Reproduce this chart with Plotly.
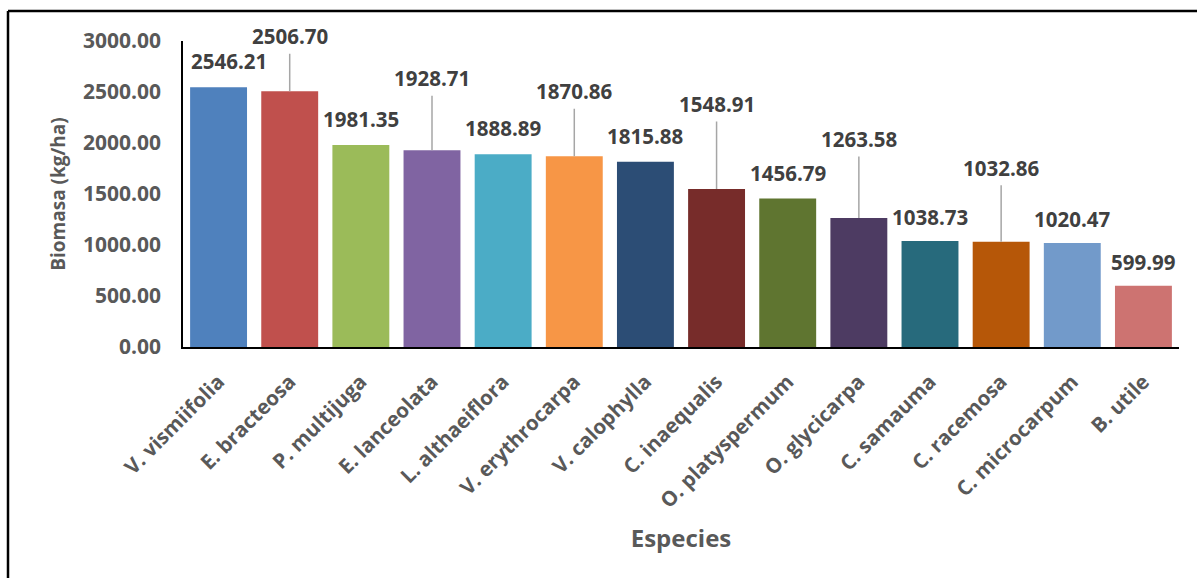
import plotly.graph_objects as go

# Biomass per species (kg/ha)
especies = [
    "V. vismiifolia", "E. bracteosa", "P. multijuga", "E. lanceolata",
    "L. althaeiflora", "V. erythrocarpa", "V. calophylla", "C. inaequalis",
    "O. platyspermum", "O. glycicarpa", "C. samauma", "C. racemosa",
    "C. microcarpum", "B. utile",
]
biomasa = [
    2546.21, 2506.70, 1981.35, 1928.71, 1888.89, 1870.86, 1815.88,
    1548.91, 1456.79, 1263.58, 1038.73, 1032.86, 1020.47, 599.99,
]

colores = [
    "#4F81BD", "#C0504D", "#9BBB59", "#8064A2", "#4BACC6", "#F79646",
    "#2C4D75", "#772C2A", "#5F7530", "#4D3B62", "#276A7C", "#B65708",
    "#729ACA", "#CD7371",
]

# Offset (px) of each value label from its bar top; tall lifts get a leader line
label_lift = [26, 55, 26, 72, 26, 65, 26, 85, 25, 79, 24, 74, 24, 24]
label_nudge = [10, 0, 0, 0, 0, 0, 0, 0, 0, 0, 0, 0, 0, 0]
LEADER_MIN = 40

FONT = "Open Sans"
DARK = "#404040"
GREY = "#595959"

fig = go.Figure(
    go.Bar(
        x=especies,
        y=biomasa,
        marker=dict(color=colores, line=dict(width=0)),
        width=0.8,
        hoverinfo="x+y",
    )
)

annotations = []
for name, val, lift, nudge in zip(especies, biomasa, label_lift, label_nudge):
    leader = lift >= LEADER_MIN
    annotations.append(dict(
        x=name, y=val, xref="x", yref="y",
        text=f"{val:.2f}",
        showarrow=True, arrowhead=0, arrowwidth=1.5,
        arrowcolor="#A6A6A6" if leader else "rgba(0,0,0,0)",
        ax=nudge, ay=-lift, standoff=0,
        font=dict(family=FONT, size=20.5, color=DARK, weight="bold"),
        borderpad=3,
    ))

# Outer frame: top and left edges
frame = dict(type="line", xref="paper", yref="paper",
             line=dict(color="black", width=2.5))
shapes = [
    dict(frame, x0=-0.1757, x1=1.02, y0=1.098, y1=1.098),
    dict(frame, x0=-0.1757, x1=-0.1757, y0=1.098, y1=-0.76),
]

fig.update_layout(
    width=1197, height=578,
    margin=dict(l=183, r=18, t=41, b=231),
    paper_bgcolor="white", plot_bgcolor="white",
    showlegend=False,
    bargap=0.2,
    annotations=annotations,
    shapes=shapes,
    font=dict(family=FONT, color=GREY),
    xaxis=dict(
        range=[-0.5, len(especies) - 0.5],
        automargin=False,
        tickangle=-45,
        tickfont=dict(family=FONT, size=20.5, color=GREY, weight="bold"),
        ticklabelstandoff=13,
        showline=True, linecolor="black", linewidth=1.5,
        ticks="", showgrid=False,
        title=dict(text="<b>Especies</b>", standoff=18,
                   font=dict(family=FONT, size=24, color=GREY)),
    ),
    yaxis=dict(
        range=[0, 3000], dtick=500, tickformat=".2f",
        automargin=False,
        tickfont=dict(family=FONT, size=21, color=GREY, weight="bold"),
        showline=True, linecolor="black", linewidth=1.5,
        ticks="", showgrid=False, zeroline=False,
        ticklabelstandoff=16,
        title=dict(text="<b>Biomasa (kg/ha)</b>", standoff=12,
                   font=dict(family=FONT, size=19, color=GREY)),
    ),
)

fig.write_html("out.html")
